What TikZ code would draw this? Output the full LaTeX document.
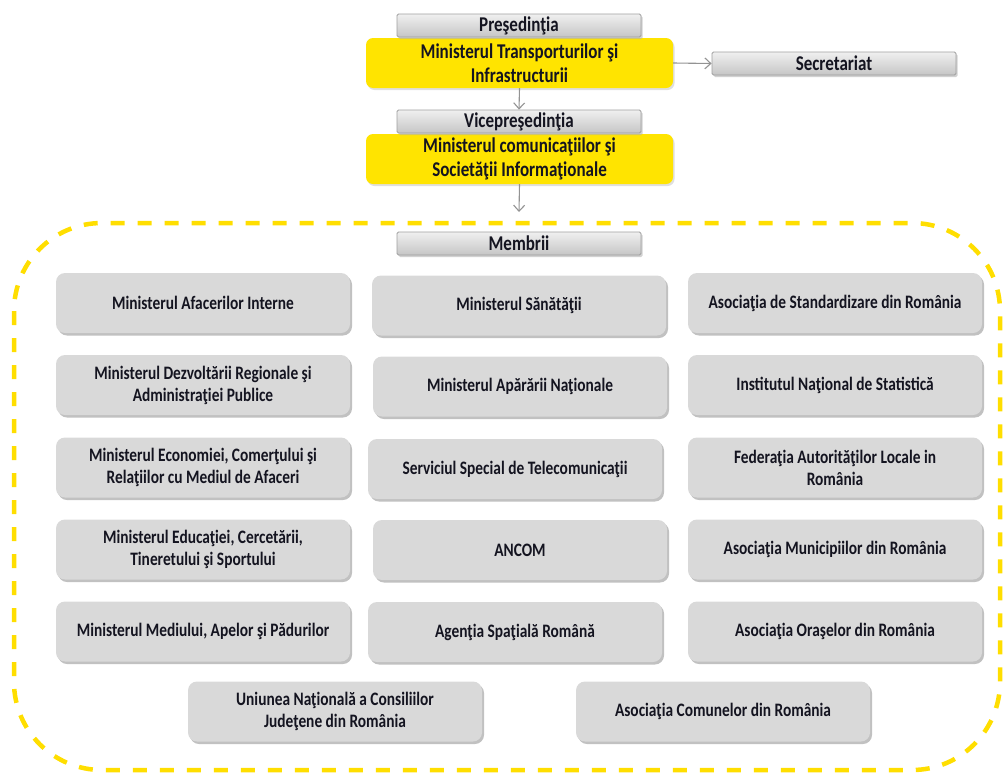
\documentclass[tikz,border=0pt]{standalone}
\usepackage{fontspec}
\setmainfont{Carlito}[FakeStretch=0.81]
\usetikzlibrary{arrows.meta,shadows}
\definecolor{chartyellow}{RGB}{255,228,0}
\definecolor{dashyellow}{RGB}{255,222,0}
\definecolor{membergray}{RGB}{217,217,217}
\definecolor{textdark}{RGB}{20,20,32}
\begin{document}
\begin{tikzpicture}[x=1pt,y=-1pt,
  every node/.style={font=\bfseries\fontsize{19}{22}\selectfont, text=textdark, align=center, inner sep=0pt},
  bigtext/.style={font=\bfseries\fontsize{21}{24}\selectfont},
  titlebar/.style={bigtext, draw=gray!75, line width=0.8pt, top color=gray!12, bottom color=gray!45,
    minimum width=244pt, minimum height=23pt, rounded corners=1.5pt,
    drop shadow={shadow xshift=1.5pt, shadow yshift=-2pt, fill=gray!60, opacity=0.6}},
  leadbox/.style={bigtext, fill=chartyellow, rounded corners=7pt, minimum width=307pt, minimum height=50pt,
    drop shadow={shadow xshift=1.5pt, shadow yshift=-2pt, fill=gray!50, opacity=0.5}},
  memberbox/.style={fill=membergray, rounded corners=9pt, minimum width=294pt, minimum height=60pt,
    drop shadow={shadow xshift=2pt, shadow yshift=-2.5pt, fill=gray!75, opacity=0.65}},
  link/.style={draw=gray!85, line width=1.1pt, -{Straight Barb[length=6pt,width=11pt]}}
]
\useasboundingbox (0,0) rectangle (1003,774);

% dashed frame around the members
\draw[dashyellow, line width=4.5pt, dash pattern=on 14pt off 13pt, rounded corners=88pt]
  (14,223) rectangle (1000,770);

% leadership
\node[leadbox] (mt) at (519.5,63) {Ministerul Transporturilor şi\\Infrastructurii};
\node[titlebar] (pres) at (519,25.5) {Preşedinţia};
\node[leadbox] (mc) at (519.5,159) {Ministerul comunicaţiilor şi\\Societăţii Informaţionale};
\node[titlebar] (vice) at (519,121.5) {Vicepreşedinţia};
\node[titlebar] (sec) at (834,63.5) {Secretariat};
\node[titlebar] (memb) at (519,243.5) {Membrii};
\coordinate (frametop) at (519,212);

\draw[link] (mt.south) -- (vice.north);
\draw[link] (mc.south) -- (frametop);
\draw[link] (mt.east) -- (sec.west);

% members, column 1
\node[memberbox] (m11) at (203,303) {Ministerul Afacerilor Interne};
\node[memberbox] (m21) at (203,385) {Ministerul Dezvoltării Regionale şi\\Administraţiei Publice};
\node[memberbox] (m31) at (203,467.5) {Ministerul Economiei, Comerţului şi\\Relaţiilor cu Mediul de Afaceri};
\node[memberbox] (m41) at (203,549.5) {Ministerul Educaţiei, Cercetării,\\Tineretului şi Sportului};
\node[memberbox] (m51) at (203,631.5) {Ministerul Mediului, Apelor şi Pădurilor};
% column 2
\node[memberbox] (m12) at (519,305.5) {Ministerul Sănătăţii};
\node[memberbox] (m22) at (520,386.5) {Ministerul Apărării Naţionale};
\node[memberbox] (m32) at (515,469) {Serviciul Special de Telecomunicaţii};
\node[memberbox] (m42) at (520,550) {ANCOM};
\node[memberbox] (m52) at (515,632) {Agenţia Spaţială Română};
% column 3
\node[memberbox] (m13) at (835,303) {Asociaţia de Standardizare din România};
\node[memberbox] (m23) at (835,385) {Institutul Naţional de Statistică};
\node[memberbox] (m33) at (835,467.5) {Federaţia Autorităţilor Locale in\\România};
\node[memberbox] (m43) at (835,549.5) {Asociaţia Municipiilor din România};
\node[memberbox] (m53) at (835,631.5) {Asociaţia Oraşelor din România};
% last row
\node[memberbox] (m61) at (335,711.5) {Uniunea Naţională a Consiliilor\\Judeţene din România};
\node[memberbox] (m62) at (723,711.5) {Asociaţia Comunelor din România};
\end{tikzpicture}
\end{document}
